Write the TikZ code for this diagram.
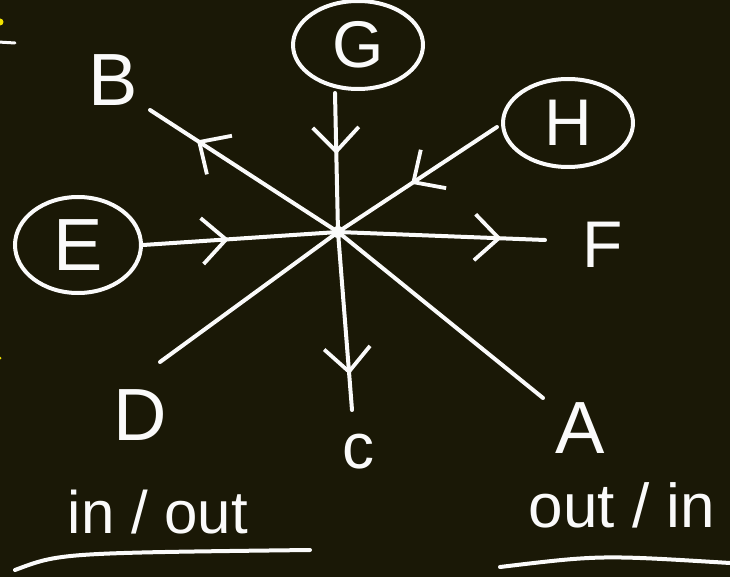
\documentclass[tikz,border=0pt]{standalone}
\usepackage{fontspec}
\setmainfont{Liberation Sans}
\usetikzlibrary{arrows.meta,decorations.markings,shapes.geometric}
\definecolor{bg}{RGB}{26,24,6}
\definecolor{chalk}{RGB}{250,250,250}
\definecolor{hl}{RGB}{240,225,0}
\tikzset{
  ray/.style={draw=chalk, line width=4pt, line cap=round},
  ring/.style={ellipse, draw=chalk, line width=4pt, text=chalk, inner sep=0pt},
  lbl/.style={text=chalk, inner sep=0pt},
  midarrow/.style={postaction={decorate}, decoration={markings,
     mark=at position #1 with {\arrow[chalk, line width=3.8pt]{Straight Barb[length=24pt,width=46pt]}}}}
}
\begin{document}
\begin{tikzpicture}[x=1pt,y=-1pt]
\fill[bg] (0,0) rectangle (730,577);
\useasboundingbox (0,0) rectangle (730,577);
% edge fragments
\fill[hl] (0,22) circle (3.5);
\fill[hl] (0,358) circle (1.5);
\draw[ray, line width=3pt] (-2,42) -- (15,43);
% circled nodes
\node[ring, minimum width=130pt, minimum height=88pt, font=\fontsize{66}{70}\selectfont] (G) at (358,45) {G};
\node[ring, minimum width=130pt, minimum height=88pt, font=\fontsize{66}{70}\selectfont] (H) at (568,123) {H};
\node[ring, minimum width=126pt, minimum height=96pt, font=\fontsize{74}{78}\selectfont] (E) at (78,245) {E};
% labels
\node[lbl, font=\fontsize{74}{78}\selectfont] (B) at (113,80) {B};
\node[lbl, font=\fontsize{66}{70}\selectfont] (F) at (603,245) {F};
\node[lbl, font=\fontsize{74}{78}\selectfont] (D) at (140,415) {D};
\node[lbl, font=\fontsize{74}{78}\selectfont] (A) at (580,428) {A};
\node[lbl, font=\fontsize{64}{68}\selectfont] (C) at (358,452) {c};
% centre and free ends
\coordinate (O) at (338,232);
\coordinate (Gs) at (335,93);
\coordinate (Hw) at (497,127);
\coordinate (Fe) at (545,240);
\coordinate (Ce) at (352,410);
\coordinate (Be) at (150,110);
\coordinate (De) at (160,362);
\coordinate (Ae) at (543,398);
% rays
\draw[ray, midarrow=0.44] (Gs) -- (O);
\draw[ray, midarrow=0.54] (Hw) -- (O);
\draw[ray, midarrow=0.44] (E.east) -- (O);
\draw[ray, midarrow=0.79] (O) -- (Fe);
\draw[ray, midarrow=0.80] (O) -- (Ce);
\draw[ray, midarrow=0.75] (O) -- (Be);
\draw[ray] (O) -- (De);
\draw[ray] (O) -- (Ae);
\fill[chalk] (O) circle (6);
% captions
\node[lbl, font=\fontsize{60}{64}\selectfont] (inout) at (158,512) {in / out};
\node[lbl, font=\fontsize{62}{66}\selectfont] (outin) at (622,505) {out / in};
\coordinate (u1a) at (15,570);
\coordinate (u1b) at (310,550);
\coordinate (u2a) at (500,567);
\coordinate (u2b) at (730,563);
\draw[ray] (u1a) .. controls (60,553) .. (u1b);
\draw[ray] (u2a) .. controls (600,555) .. (u2b);
\end{tikzpicture}
\end{document}
